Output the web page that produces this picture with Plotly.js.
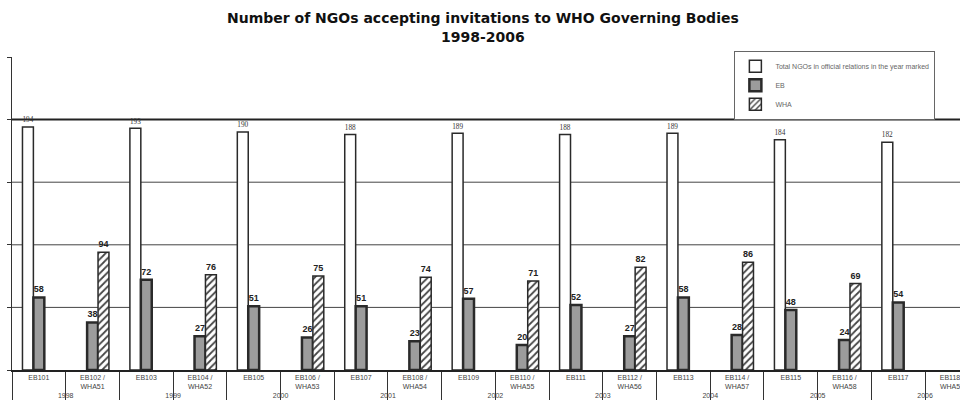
<!DOCTYPE html>
<html>
<head>
<meta charset="utf-8">
<script src="https://cdn.plot.ly/plotly-3.0.1.min.js"></script>
<style>html,body{margin:0;padding:0;background:#fff;}#chart{width:960px;height:409px;}</style>
</head>
<body>
<div id="chart"></div>
<script>
// Session labels (first level) and year groups (second level)
const categories = ['EB101', 'EB102 /<br>WHA51', 'EB103', 'EB104 /<br>WHA52', 'EB105', 'EB106 /<br>WHA53',
  'EB107', 'EB108 /<br>WHA54', 'EB109', 'EB110 /<br>WHA55', 'EB111', 'EB112 /<br>WHA56',
  'EB113', 'EB114 /<br>WHA57', 'EB115', 'EB116 /<br>WHA58', 'EB117', 'EB118 /<br>WHA59'];
const years = ['1998', '1998', '1999', '1999', '2000', '2000', '2001', '2001', '2002', '2002',
  '2003', '2003', '2004', '2004', '2005', '2005', '2006', '2006'];
// Series values
const totalNGOs = [194, null, 193, null, 190, null, 188, null, 189, null, 188, null, 189, null, 184, null, 182, null];
const ebValues = [58, 38, 72, 27, 51, 26, 51, 23, 57, 20, 52, 27, 58, 28, 48, 24, 54, null];
const whaValues = [null, 94, null, 76, null, 75, null, 74, null, 71, null, 82, null, 86, null, 69, null, null];
const seriesNames = ['Total NGOs in official relations in the year marked', 'EB', 'WHA'];
const gridValues = [50, 100, 150, 200];

const xData = [years, categories];
const fontFam = 'Liberation Sans, Arial, sans-serif';

const traces = [
  {
    type: 'bar', name: seriesNames[0], x: xData, y: totalNGOs,
    marker: {color: '#ffffff', line: {color: '#2a2a2a', width: 1.5}},
    text: totalNGOs.map(v => v == null ? '' : String(v)), textposition: 'outside',
    textfont: {family: 'Liberation Serif, Times New Roman, serif', size: 8, color: '#333'},
    cliponaxis: false
  },
  {
    type: 'bar', name: seriesNames[1], x: xData, y: ebValues,
    marker: {color: '#9c9c9c', line: {color: '#2a2a2a', width: 2.5}},
    text: ebValues.map(v => v == null ? '' : String(v)), textposition: 'outside',
    textfont: {family: fontFam, size: 9, color: '#222', weight: 'bold'},
    cliponaxis: false
  },
  {
    type: 'bar', name: seriesNames[2], x: xData, y: whaValues,
    marker: {color: '#ffffff', line: {color: '#2a2a2a', width: 1.5},
      pattern: {shape: '/', fgcolor: '#444', bgcolor: '#ffffff', size: 5, solidity: 0.35}},
    text: whaValues.map(v => v == null ? '' : String(v)), textposition: 'outside',
    textfont: {family: fontFam, size: 9, color: '#222', weight: 'bold'},
    cliponaxis: false
  }
];

const shapes = gridValues.map(v => ({
  type: 'line', xref: 'paper', yref: 'y', x0: 0, x1: 1, y0: v, y1: v, layer: 'below',
  line: {color: v === 200 ? '#222' : '#444', width: v === 200 ? 2 : 1}
}));

const layout = {
  width: 960, height: 409,
  margin: {l: 12, r: 0, t: 57, b: 39},
  paper_bgcolor: '#ffffff', plot_bgcolor: '#ffffff',
  font: {family: fontFam, color: '#222'},
  title: {
    text: 'Number of NGOs accepting invitations to WHO Governing Bodies<br>1998-2006',
    font: {family: 'DejaVu Sans, Verdana, sans-serif', size: 14, color: '#111', weight: 'bold'},
    x: 0.503, xanchor: 'center', xref: 'container',
    y: 0.943, yanchor: 'top', yref: 'container'
  },
  barmode: 'group', bargap: 0.39, bargroupgap: 0,
  showlegend: true,
  legend: {
    x: 0.762, xanchor: 'left', y: 1.02, yanchor: 'top',
    bgcolor: '#ffffff', bordercolor: '#666', borderwidth: 1,
    font: {family: fontFam, size: 7, color: '#666'},
    tracegroupgap: 0, itemwidth: 30
  },
  xaxis: {
    type: 'multicategory', range: [-0.5, 17.15],
    showline: true, linecolor: '#222', linewidth: 1.5,
    ticks: 'outside', tickson: 'boundaries', ticklen: 28, tickcolor: '#333',
    showdividers: true, dividercolor: '#333', dividerwidth: 1,
    tickfont: {family: fontFam, size: 7, color: '#444'},
    showgrid: false, zeroline: false
  },
  yaxis: {
    range: [0, 250], tickvals: [0, 50, 100, 150, 200, 250],
    showticklabels: false, showgrid: false, zeroline: false,
    showline: true, linecolor: '#333', linewidth: 1,
    ticks: 'outside', ticklen: 4, tickcolor: '#333'
  },
  shapes: shapes
};

Plotly.newPlot('chart', traces, layout, {displayModeBar: false, staticPlot: true});
</script>
</body>
</html>
